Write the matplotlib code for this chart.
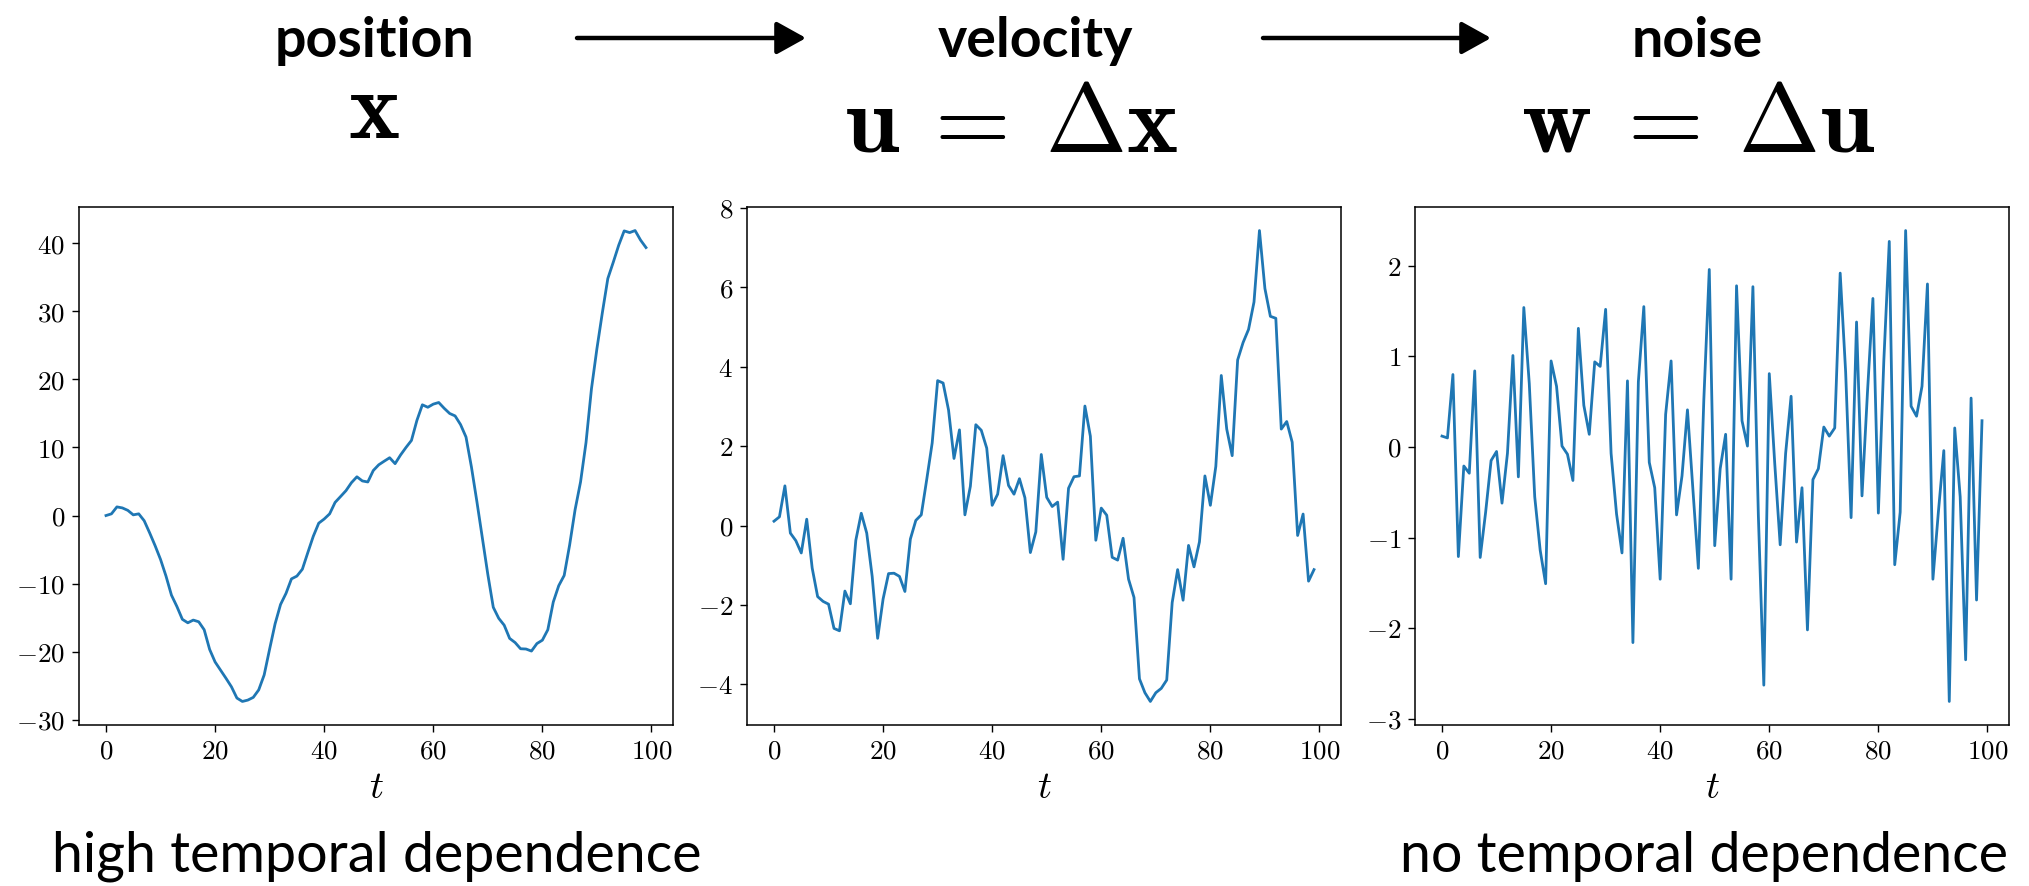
import numpy as np
import matplotlib
matplotlib.use("Agg")
import matplotlib.pyplot as plt
from matplotlib.patches import FancyArrowPatch
from matplotlib.ticker import FuncFormatter, MultipleLocator

plt.rcParams["mathtext.fontset"] = "cm"

# values, one per time step
position = [0.0, 0.25, 1.27, 1.12, 0.76, 0.10, 0.25, -0.76, -2.54, -4.42,
            -6.45, -8.89, -11.69, -13.36, -15.24, -15.75, -15.35, -15.6, -16.77, -19.66,
            -21.5, -22.7, -23.9, -25.15, -26.8, -27.3, -27.1, -26.7, -25.6, -23.4,
            -19.6, -15.9, -13.06, -11.43, -9.30, -8.89, -7.88, -5.44, -3.05, -1.12,
            -0.51, 0.25, 1.93, 2.79, 3.66, 4.83, 5.69, 5.08, 4.93, 6.61,
            7.45, 7.98, 8.49, 7.62, 8.89, 10.0, 11.03, 13.97, 16.26, 15.9,
            16.36, 16.6, 15.75, 14.99, 14.63, 13.36, 11.53, 7.11, 2.03, -3.30,
            -8.64, -13.47, -15.09, -16.1, -18.04, -18.65, -19.56, -19.6, -19.9, -18.8,
            -18.3, -16.77, -12.7, -10.3, -8.8, -4.32, 0.86, 4.93, 10.7, 18.6,
            24.5, 29.8, 34.8, 37.2, 39.7, 41.8, 41.55, 41.85, 40.45, 39.35]

velocity = [0.11, 0.22, 1.00, -0.19, -0.38, -0.69, 0.16, -1.07, -1.79, -1.91,
            -1.98, -2.59, -2.65, -1.65, -1.97, -0.37, 0.31, -0.19, -1.28, -2.84,
            -1.85, -1.21, -1.20, -1.28, -1.66, -0.34, 0.13, 0.27, 1.16, 2.08,
            3.65, 3.59, 2.91, 1.69, 2.41, 0.27, 0.99, 2.54, 2.40, 1.95,
            0.51, 0.79, 1.76, 1.01, 0.79, 1.18, 0.70, -0.68, -0.16, 1.79,
            0.71, 0.48, 0.59, -0.85, 0.94, 1.23, 1.25, 3.01, 2.25, -0.37,
            0.44, 0.26, -0.80, -0.87, -0.32, -1.35, -1.81, -3.86, -4.21, -4.43,
            -4.21, -4.10, -3.89, -1.94, -1.11, -1.88, -0.50, -1.04, -0.41, 1.25,
            0.51, 1.49, 3.78, 2.43, 1.76, 4.17, 4.61, 4.94, 5.63, 7.43,
            5.97, 5.27, 5.22, 2.43, 2.62, 2.10, -0.25, 0.29, -1.40, -1.11]

noise = [0.12, 0.10, 0.80, -1.21, -0.21, -0.29, 0.84, -1.22, -0.72, -0.15,
         -0.05, -0.62, -0.07, 1.01, -0.33, 1.54, 0.70, -0.55, -1.14, -1.51,
         0.95, 0.67, 0.01, -0.08, -0.37, 1.31, 0.46, 0.14, 0.94, 0.89,
         1.52, -0.07, -0.74, -1.17, 0.73, -2.16, 0.72, 1.55, -0.17, -0.45,
         -1.46, 0.36, 0.95, -0.75, -0.32, 0.41, -0.47, -1.34, 0.52, 1.96,
         -1.09, -0.24, 0.14, -1.46, 1.78, 0.29, 0.01, 1.77, -0.76, -2.63,
         0.81, -0.18, -1.08, -0.07, 0.56, -1.05, -0.45, -2.02, -0.36, -0.24,
         0.22, 0.12, 0.21, 1.92, 0.83, -0.78, 1.38, -0.54, 0.60, 1.64,
         -0.73, 0.95, 2.27, -1.30, -0.72, 2.39, 0.45, 0.34, 0.67, 1.80,
         -1.46, -0.72, -0.04, -2.81, 0.21, -0.55, -2.35, 0.54, -1.69, 0.29]

t = np.arange(len(position))

titles = ["position", "velocity", "noise"]
formulas = [r"$\mathbf{x}$", r"$\mathbf{u}\:=\:\Delta\mathbf{x}$", r"$\mathbf{w}\:=\:\Delta\mathbf{u}$"]
ytick_steps = [10, 2, 1]

fig = plt.figure(figsize=(20.29, 8.86), dpi=100)

lefts = [79, 747, 1415]  # pixel positions of the axes
series = [position, velocity, noise]
for left, ys, step in zip(lefts, series, ytick_steps):
    ax = fig.add_axes([left / 2029, 161 / 886, 594 / 2029, 518 / 886])
    ax.plot(t, ys, color="#1f77b4", linewidth=2.0)
    ax.xaxis.set_major_locator(MultipleLocator(20))
    ax.yaxis.set_major_locator(MultipleLocator(step))
    fmt = FuncFormatter(lambda v, p: "$%g$" % v)
    ax.xaxis.set_major_formatter(fmt)
    ax.yaxis.set_major_formatter(fmt)
    ax.tick_params(labelsize=19.5, length=5, width=1.0, pad=5)
    for s in ax.spines.values():
        s.set_linewidth(1.1)
    ax.set_xlabel("$t$", fontsize=28, labelpad=2)

# headers
title_x = [374, 1035, 1697]
math_x = [374, 1011, 1698]
math_y = [138, 151, 151]
math_size = [70, 70, 70]
for tx, mx, my, ms, title, form in zip(title_x, math_x, math_y, math_size, titles, formulas):
    fig.text(tx / 2029, 1 - 57 / 886, title, ha="center", va="baseline",
             fontsize=40, fontfamily="Lato", fontweight="bold")
    fig.text(mx / 2029, 1 - my / 886, form, ha="center", va="baseline", fontsize=ms)

for x0, x1 in [(577, 806), (1263, 1491)]:
    arr = FancyArrowPatch((x0 / 2029, 1 - 38 / 886), (x1 / 2029, 1 - 38 / 886),
                          transform=fig.transFigure, arrowstyle="-|>,head_length=1.8,head_width=1.0",
                          mutation_scale=10, lw=3.2, color="black", shrinkA=0, shrinkB=0)
    fig.add_artist(arr)

fig.text(52 / 2029, 14 / 886, "high temporal dependence", ha="left", va="baseline",
         fontsize=40, fontfamily="Lato", color="black")
fig.text(2008 / 2029, 14 / 886, "no temporal dependence", ha="right", va="baseline",
         fontsize=40, fontfamily="Lato", color="black")

fig.savefig("out.png", dpi=100)
